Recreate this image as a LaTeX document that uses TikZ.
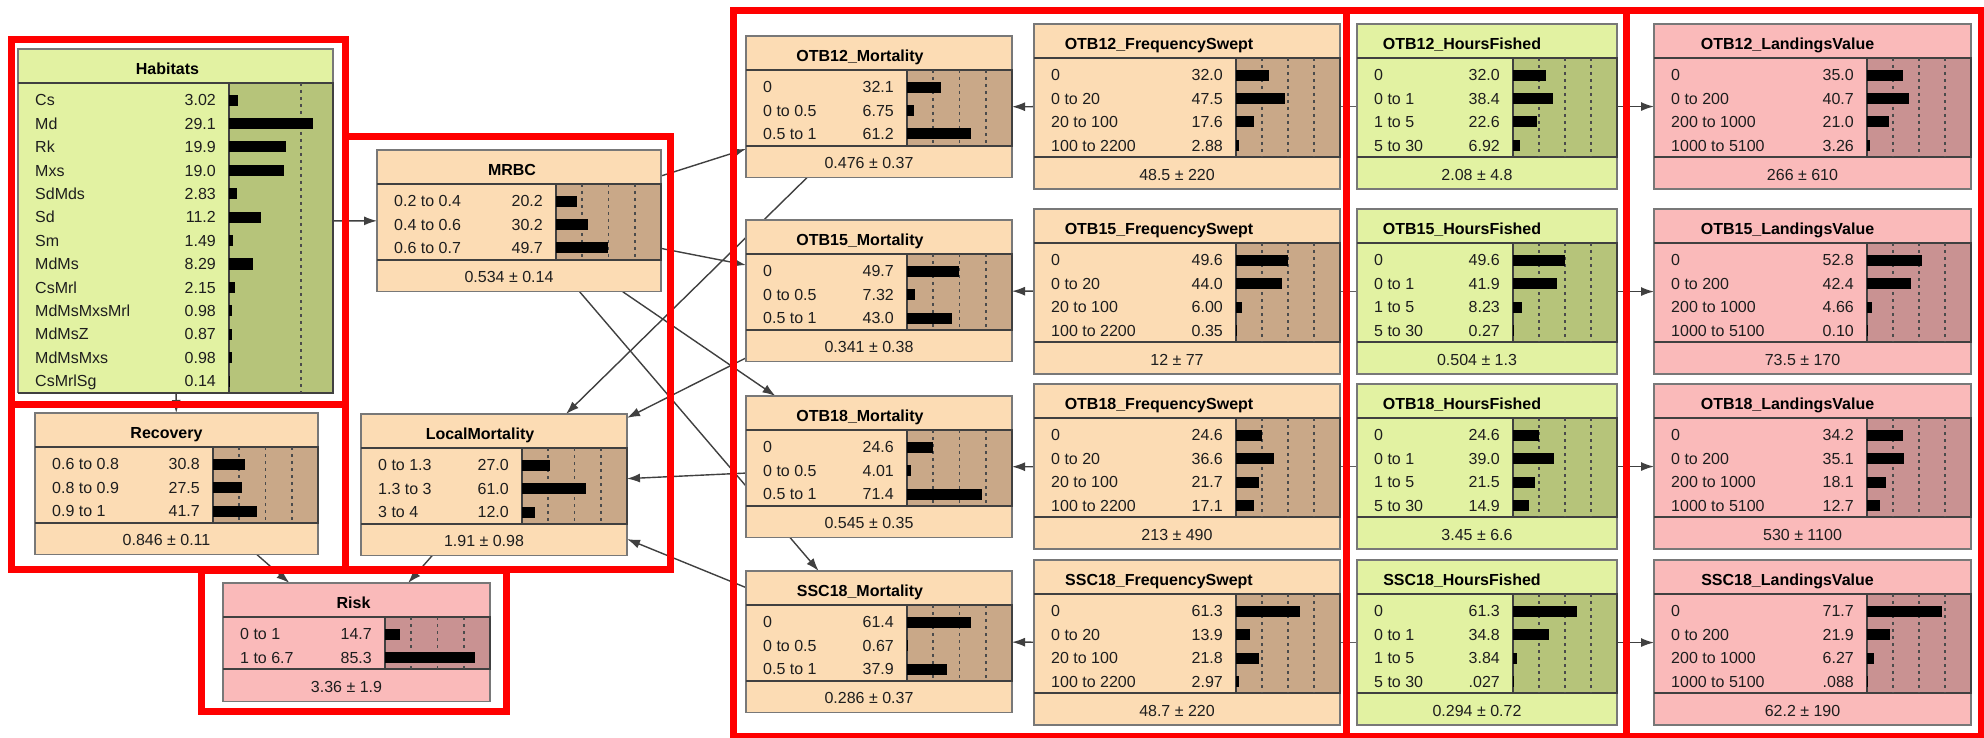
\documentclass[tikz,border=0pt]{standalone}
\usepackage{fontspec}
\setmainfont{Liberation Sans}
\usepackage{tikz}
\usetikzlibrary{arrows.meta,backgrounds}
\definecolor{PeachBox}{RGB}{252,220,180}
\definecolor{PeachChart}{RGB}{201,168,136}
\definecolor{GreenBox}{RGB}{226,242,162}
\definecolor{GreenChart}{RGB}{182,196,122}
\definecolor{PinkBox}{RGB}{250,186,186}
\definecolor{PinkChart}{RGB}{201,146,146}
\definecolor{FrameRed}{RGB}{255,0,0}
\definecolor{BoxLine}{RGB}{120,120,120}
\definecolor{Ink}{RGB}{30,30,30}

% geometry: left/top/right/chart left/title shift/full scale (%)
\def\bngeo#1/#2/#3/#4/#5/#6\relax{%
  \def\bnxa{#1}\def\bnya{#2}\def\bnxb{#3}\def\bncx{#4}\def\bnts{#5}\def\bnfull{#6}}

% \bnnode{name}{geometry}{colour}{title}{rows}{mean}
\newcommand{\bnnode}[6]{%
  \bngeo#2\relax
  \gdef\bnrows{0}%
  \foreach \bnr in {#5} {\pgfmathtruncatemacro\bntmp{\bnrows+1}\global\let\bnrows\bntmp}%
  \pgfmathsetmacro\bntb{\bnya+34}%
  \pgfmathsetmacro\bnte{\bntb+5.5+23.4*\bnrows}%
  \if\relax\detokenize{#6}\relax
    \pgfmathsetmacro\bnyb{\bnte}%
  \else
    \pgfmathsetmacro\bnyb{\bnte+32}%
  \fi
  \pgfmathsetmacro\bnw{\bnxb-\bnxa}%
  \pgfmathsetmacro\bnh{\bnyb-\bnya}%
  \node[bnbox, fill=#3Box, minimum width=\bnw pt, minimum height=\bnh pt] (#1) at (\bnxa,\bnya) {};
  \node[bntitle] at ({(\bnxa+\bnxb)/2+\bnts},{\bnya+25.5}) {#4};
  \filldraw[bnrule, fill=#3Chart] (\bncx,\bntb) rectangle (\bnxb,\bnte);
  \draw[bnrule] (\bnxa,\bntb) -- (\bnxb,\bntb);
  \draw[bnrule] (\bnxa,\bnte) -- (\bnxb,\bnte);
  \foreach \q in {25,50,75} {%
    \pgfmathsetmacro\bndx{\bncx+\q/\bnfull*(\bnxb-\bncx)}%
    \ifdim\bndx pt<\bnxb pt
      \draw[bndots] (\bndx,\bntb) -- (\bndx,\bnte);
    \fi}
  \foreach \lab/\val/\pct [count=\i] in {#5} {%
    \pgfmathsetmacro\bnyc{\bntb+5.5+23.4*(\i-0.5)}%
    \pgfmathsetmacro\bnbar{\pct/\bnfull*(\bnxb-\bncx)}%
    \node[bnlabel] at ({\bnxa+17},{\bnyc+5.7}) {\lab};
    \node[bnvalue] at ({\bncx-13},{\bnyc+5.7}) {\val};
    \fill[black] (\bncx,{\bnyc-5.5}) rectangle ({\bncx+\bnbar},{\bnyc+5.5});
  }
  \if\relax\detokenize{#6}\relax\else
    \node[bnvalue, anchor=base] at ({(\bnxa+\bnxb)/2-10},{\bnte+23}) {#6};
  \fi
}

\begin{document}
\begin{tikzpicture}[
  x=1pt, y=-1pt,
  bnbox/.style={draw=BoxLine, line width=1.5pt, anchor=north west, inner sep=0pt, outer sep=0pt},
  bnrule/.style={draw=Ink!85, line width=1.8pt},
  bndots/.style={draw=Ink!80, line width=1.6pt, dash pattern=on 3pt off 4pt},
  bntitle/.style={anchor=base, inner sep=0pt, text=black, font=\bfseries\fontsize{16}{19}\selectfont},
  bnlabel/.style={anchor=base west, inner sep=0pt, text=Ink, font=\fontsize{16}{19}\selectfont},
  bnvalue/.style={anchor=base east, inner sep=0pt, text=Ink, font=\fontsize{16}{19}\selectfont},
  arrow/.style={draw=Ink!85, line width=1.4pt, -{Latex[length=13pt,width=9pt]}},
  link/.style={draw=Ink!70, line width=1.4pt},
  frame/.style={draw=FrameRed, line width=7pt}
]
  \useasboundingbox (0,0) rectangle (1984,738);

  % habitat side
  \bnnode{habitats}{18/49/333/229/-8/36.1}{Green}{Habitats}{Cs/3.02, Md/29.1, Rk/19.9, Mxs/19.0, SdMds/2.83, Sd/11.2, Sm/1.49, MdMs/8.29, CsMrl/2.15, MdMsMxsMrl/0.98, MdMsZ/0.87, MdMsMxs/0.98, CsMrlSg/0.14}{}
  \bnnode{mrbc}{377/150/661/556/-7/100}{Peach}{MRBC}{0.2 to 0.4/20.2, 0.4 to 0.6/30.2, 0.6 to 0.7/49.7}{0.534 ± 0.14}
  \bnnode{recovery}{35/413/318/213/-10/100}{Peach}{Recovery}{0.6 to 0.8/30.8, 0.8 to 0.9/27.5, 0.9 to 1/41.7}{0.846 ± 0.11}
  \bnnode{localmort}{361/414/627/522/-14/100}{Peach}{LocalMortality}{0 to 1.3/27.0, 1.3 to 3/61.0, 3 to 4/12.0}{1.91 ± 0.98}
  \bnnode{risk}{223/583/490/385/-3/100}{Pink}{Risk}{0 to 1/14.7, 1 to 6.7/85.3}{3.36 ± 1.9}

  % mortality per gear
  \bnnode{otb12mort}{746/36/1012/907/-19/100}{Peach}{OTB12\_Mortality}{0/32.1, 0 to 0.5/6.75, 0.5 to 1/61.2}{0.476 ± 0.37}
  \bnnode{otb15mort}{746/220/1012/907/-19/100}{Peach}{OTB15\_Mortality}{0/49.7, 0 to 0.5/7.32, 0.5 to 1/43.0}{0.341 ± 0.38}
  \bnnode{otb18mort}{746/396/1012/907/-19/100}{Peach}{OTB18\_Mortality}{0/24.6, 0 to 0.5/4.01, 0.5 to 1/71.4}{0.545 ± 0.35}
  \bnnode{ssc18mort}{746/571/1012/907/-19/100}{Peach}{SSC18\_Mortality}{0/61.4, 0 to 0.5/0.67, 0.5 to 1/37.9}{0.286 ± 0.37}

  % frequency swept
  \bnnode{otb12freq}{1034/24/1340/1236/-28/100}{Peach}{OTB12\_FrequencySwept}{0/32.0, 0 to 20/47.5, 20 to 100/17.6, 100 to 2200/2.88}{48.5 ± 220}
  \bnnode{otb15freq}{1034/209/1340/1236/-28/100}{Peach}{OTB15\_FrequencySwept}{0/49.6, 0 to 20/44.0, 20 to 100/6.00, 100 to 2200/0.35}{12 ± 77}
  \bnnode{otb18freq}{1034/384/1340/1236/-28/100}{Peach}{OTB18\_FrequencySwept}{0/24.6, 0 to 20/36.6, 20 to 100/21.7, 100 to 2200/17.1}{213 ± 490}
  \bnnode{ssc18freq}{1034/560/1340/1236/-28/100}{Peach}{SSC18\_FrequencySwept}{0/61.3, 0 to 20/13.9, 20 to 100/21.8, 100 to 2200/2.97}{48.7 ± 220}

  % hours fished
  \bnnode{otb12hours}{1357/24/1617/1513/-25/100}{Green}{OTB12\_HoursFished}{0/32.0, 0 to 1/38.4, 1 to 5/22.6, 5 to 30/6.92}{2.08 ± 4.8}
  \bnnode{otb15hours}{1357/209/1617/1513/-25/100}{Green}{OTB15\_HoursFished}{0/49.6, 0 to 1/41.9, 1 to 5/8.23, 5 to 30/0.27}{0.504 ± 1.3}
  \bnnode{otb18hours}{1357/384/1617/1513/-25/100}{Green}{OTB18\_HoursFished}{0/24.6, 0 to 1/39.0, 1 to 5/21.5, 5 to 30/14.9}{3.45 ± 6.6}
  \bnnode{ssc18hours}{1357/560/1617/1513/-25/100}{Green}{SSC18\_HoursFished}{0/61.3, 0 to 1/34.8, 1 to 5/3.84, 5 to 30/.027/0.027}{0.294 ± 0.72}

  % landings value
  \bnnode{otb12land}{1654/24/1971/1867/-25/100}{Pink}{OTB12\_LandingsValue}{0/35.0, 0 to 200/40.7, 200 to 1000/21.0, 1000 to 5100/3.26}{266 ± 610}
  \bnnode{otb15land}{1654/209/1971/1867/-25/100}{Pink}{OTB15\_LandingsValue}{0/52.8, 0 to 200/42.4, 200 to 1000/4.66, 1000 to 5100/0.10}{73.5 ± 170}
  \bnnode{otb18land}{1654/384/1971/1867/-25/100}{Pink}{OTB18\_LandingsValue}{0/34.2, 0 to 200/35.1, 200 to 1000/18.1, 1000 to 5100/12.7}{530 ± 1100}
  \bnnode{ssc18land}{1654/560/1971/1867/-25/100}{Pink}{SSC18\_LandingsValue}{0/71.7, 0 to 200/21.9, 200 to 1000/6.27, 1000 to 5100/.088/0.088}{62.2 ± 190}

  \begin{pgfonlayer}{background}
    \fill[white] (0,0) rectangle (1984,738);
    \draw[arrow] (habitats) -- (mrbc);
    \draw[arrow] (habitats) -- (recovery);
    \draw[arrow] (recovery) -- (risk);
    \draw[arrow] (localmort) -- (risk);
    \draw[arrow] (mrbc) -- (otb12mort);
    \draw[arrow] (mrbc) -- (otb15mort);
    \draw[arrow] (mrbc) -- (otb18mort);
    \draw[arrow] (mrbc) -- (ssc18mort);
    \draw[arrow] (otb12mort) -- (localmort);
    \draw[arrow] (otb15mort) -- (localmort);
    \draw[arrow] (otb18mort) -- (localmort);
    \draw[arrow] (ssc18mort) -- (localmort);
    \foreach \g in {otb12,otb15,otb18,ssc18} {
      \draw[arrow] (\g freq) -- (\g mort);
      \draw[link] (\g hours) -- (\g freq);
      \draw[arrow] (\g hours) -- (\g land);
    }
  \end{pgfonlayer}

  % red groupings
  \draw[frame] (11,40) rectangle (345,404);
  \draw[frame] (11,404) rectangle (345,569);
  \draw[frame] (345,137) rectangle (670,569);
  \draw[frame] (201,570) rectangle (506,711);
  \draw[frame] (733,11) rectangle (1346,736);
  \draw[frame] (1346,11) rectangle (1626,736);
  \draw[frame] (1626,11) rectangle (1981,736);
\end{tikzpicture}
\end{document}
